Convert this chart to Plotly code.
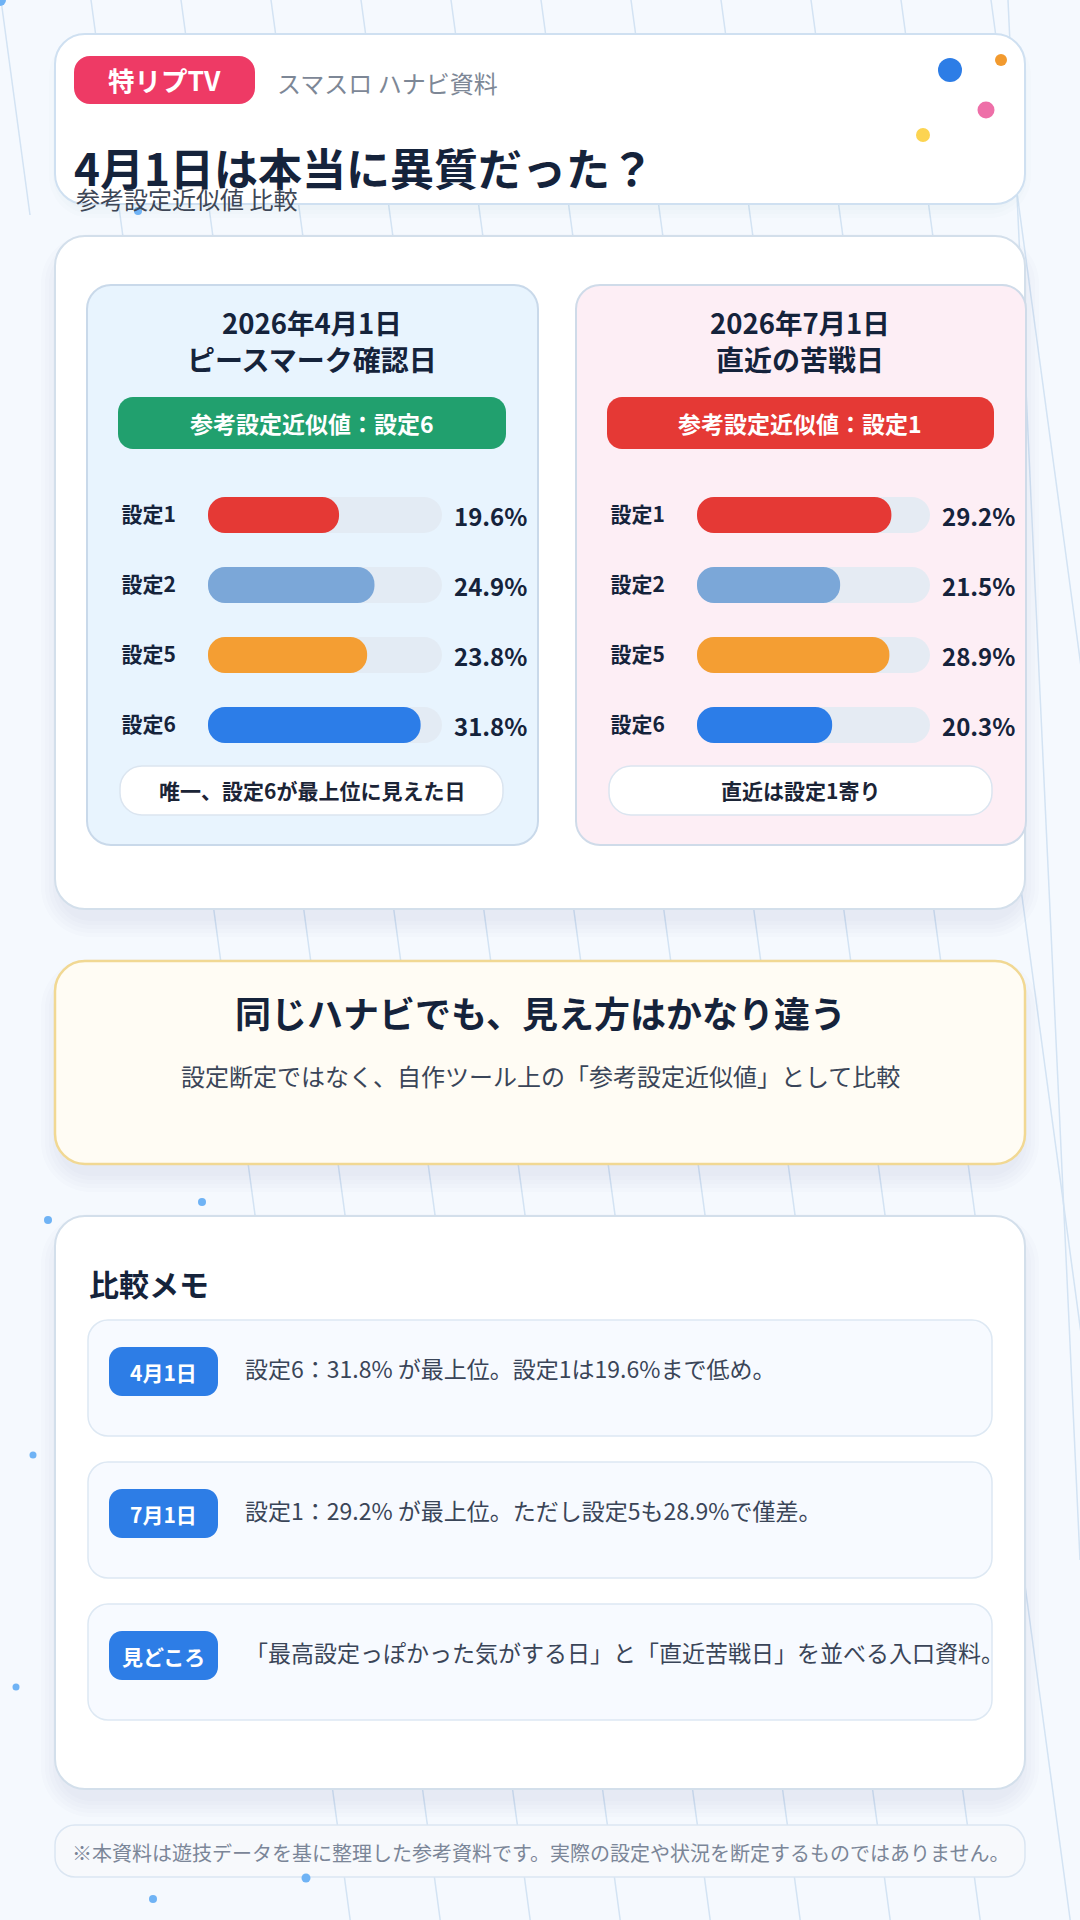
import plotly.graph_objects as go

W, H = 1080, 1920
FONT = "Noto Sans CJK JP"

# ---------------- data ----------------
settings = ["設定1", "設定2", "設定5", "設定6"]
apr1_values = [19.6, 24.9, 23.8, 31.8]
jul1_values = [29.2, 21.5, 28.9, 20.3]
bar_colors = ["#e53935", "#7ba7d8", "#f49e33", "#2c7de8"]
scale_max = 35

header_badge = "特リプTV"
header_sub = "スマスロ ハナビ資料"
title_text = "4月1日は本当に異質だった？"
subtitle_text = "参考設定近似値 比較"
panel_titles = [["2026年4月1日", "ピースマーク確認日"], ["2026年7月1日", "直近の苦戦日"]]
panel_pills = ["参考設定近似値：設定6", "参考設定近似値：設定1"]
panel_notes = ["唯一、設定6が最上位に見えた日", "直近は設定1寄り"]
mid_title = "同じハナビでも、見え方はかなり違う"
mid_sub = "設定断定ではなく、自作ツール上の「参考設定近似値」として比較"
memo_title = "比較メモ"
memo_badges = ["4月1日", "7月1日", "見どころ"]
memo_texts = [
    "設定6：31.8% が最上位。設定1は19.6%まで低め。",
    "設定1：29.2% が最上位。ただし設定5も28.9%で僅差。",
    "「最高設定っぽかった気がする日」と「直近苦戦日」を並べる入口資料。",
]
footer_text = "※本資料は遊技データを基に整理した参考資料です。実際の設定や状況を断定するものではありません。"


def px(x):
    return x / W


def py(y):
    return 1 - y / H


def P(x, y):
    return f"{px(x):.5f},{py(y):.5f}"


def rr_path(x0, y0, x1, y1, r):
    k = 0.4477 * r
    return (
        f"M{P(x0 + r, y0)} L{P(x1 - r, y0)} C{P(x1 - k, y0)} {P(x1, y0 + k)} {P(x1, y0 + r)} "
        f"L{P(x1, y1 - r)} C{P(x1, y1 - k)} {P(x1 - k, y1)} {P(x1 - r, y1)} "
        f"L{P(x0 + r, y1)} C{P(x0 + k, y1)} {P(x0, y1 - k)} {P(x0, y1 - r)} "
        f"L{P(x0, y0 + r)} C{P(x0, y0 + k)} {P(x0 + k, y0)} {P(x0 + r, y0)} Z"
    )


shapes = []


def rrect(x0, y0, x1, y1, r, fill, line=None, lw=0):
    shapes.append(dict(type="path", xref="paper", yref="paper", layer="below",
                       path=rr_path(x0, y0, x1, y1, r), fillcolor=fill,
                       line=dict(color=line if line else "rgba(0,0,0,0)", width=lw)))


def shadow(x0, y0, x1, y1, r, off=12, n=5, a=0.015):
    for i in range(1, n + 1):
        e = i * 4
        rrect(x0 - e + 6, y0 - e + off + 6, x1 + e - 6, y1 + e + off - 4, r + e, f"rgba(40,70,110,{a})")


def circle(cx, cy, r, color):
    shapes.append(dict(type="circle", xref="paper", yref="paper", layer="below",
                       x0=px(cx - r), x1=px(cx + r), y0=py(cy + r), y1=py(cy - r),
                       fillcolor=color, line=dict(width=0)))


def line(x0, y0, x1, y1, color, w=1.5):
    shapes.append(dict(type="line", xref="paper", yref="paper", layer="below",
                       x0=px(x0), y0=py(y0), x1=px(x1), y1=py(y1), line=dict(color=color, width=w)))


# background slanted lines
line(1, 0, 30, 215, "#d3e3f3", 1.5)
for k in range(1, 12):
    xt = 1 + 90 * k
    line(xt, 0, xt + 0.135 * H, H, "#d3e3f3", 1.5)
line(1008, 0, 1080, 1560, "#d3e3f3", 1.5)

# header card
shadow(55, 34, 1025, 204, 30, off=6, n=3, a=0.012)
rrect(55, 34, 1025, 204, 30, "#ffffff", "#cfe0f1", 2)
rrect(74, 56, 255, 104, 16, "#ee3a65")

# comparison card
shadow(55, 236, 1025, 909, 30)
rrect(55, 236, 1025, 909, 30, "#ffffff", "#d3dfeb", 2)
# panels
rrect(87, 285, 538, 845, 24, "#e8f4fe", "#c9d9ea", 2)
rrect(576, 285, 1026, 845, 24, "#fdeef5", "#cfdbe9", 2)
rrect(118, 397, 506, 449, 15, "#21a06e")
rrect(607, 397, 994, 449, 15, "#e53935")
rrect(120, 766, 503, 815, 22, "#ffffff", "#dbe5f0", 1.5)
rrect(609, 766, 992, 815, 22, "#ffffff", "#dbe5f0", 1.5)
# bar tracks (decoration behind the bars)
for yc in [515, 585, 655, 725]:
    rrect(208, yc - 18, 442, yc + 18, 18, "#e3ebf4")
    rrect(697, yc - 18, 930, yc + 18, 18, "#e5ebf3")

# middle yellow card
shadow(55, 961, 1025, 1164, 30)
rrect(55, 961, 1025, 1164, 30, "#fffcf4", "#f1d893", 2.5)

# memo card
shadow(55, 1216, 1025, 1789, 30)
rrect(55, 1216, 1025, 1789, 30, "#ffffff", "#d3dfeb", 2)
row_tops = [1320, 1462, 1604]
for t in row_tops:
    rrect(88, t, 992, t + 116, 20, "#f7faff", "#dde8f3", 1.5)
    rrect(109, t + 27, 218, t + 76, 13, "#2d7de6")

# footer
rrect(55, 1825, 1025, 1877, 20, "#f7f9fc", "#dbe6f2", 1.5)

# decorative dots
circle(950, 70, 12, "#2d7de6")
circle(1001, 60, 6, "#f29a2e")
circle(986, 110, 8.5, "#ee6fa8")
circle(923, 135, 7, "#fcd451")
for (cx, cy, r) in [(0, 0, 6), (138, 211, 4), (202, 1202, 4), (48, 1220, 4), (33, 1455, 3.5),
                    (16, 1687, 3.5), (306, 1878, 4.5), (153, 1899, 4)]:
    circle(cx, cy, r, "#6fb3f5")

annotations = []


def txt(x, y, s, size, color, weight=400, anchor="left", xref="paper", yref="paper", xshift=0):
    annotations.append(dict(
        x=px(x) if xref == "paper" else x, y=py(y) if yref == "paper" else y,
        xref=xref, yref=yref, text=s, showarrow=False, xanchor=anchor, yanchor="middle",
        xshift=xshift,
        font=dict(family=FONT, size=size, color=color, weight=weight)))


NAVY = "#15233b"
txt(164.5, 80, header_badge, 26.5, "#ffffff", 700, "center")
txt(275, 83, header_sub, 24, "#7d8796")
txt(72, 167, title_text, 44, NAVY, 700)
txt(74, 198, subtitle_text, 24, "#3d4656")

centers = [312, 800]
for i, c in enumerate(centers):
    txt(c, 322, panel_titles[i][0], 27.5, NAVY, 700, "center")
    txt(c, 359, panel_titles[i][1], 28, NAVY, 700, "center")
    txt(c, 423, panel_pills[i], 23, "#ffffff", 700, "center")
    txt(c, 790, panel_notes[i], 21, "#1b2436", 700, "center")

txt(540, 1012, mid_title, 36, NAVY, 700, "center")
txt(540, 1075, mid_sub, 24, "#3a4558", 400, "center")

txt(87, 1283, memo_title, 30, NAVY, 700)
for i, t in enumerate(row_tops):
    txt(163.5, t + 52, memo_badges[i], 21, "#ffffff", 700, "center")
    txt(243, t + 48, memo_texts[i], 23, "#3a4558")

txt(70, 1852, footer_text, 20, "#7b8698")

# ---------------- bars ----------------
fig = go.Figure()
panels = [("x", "y", apr1_values), ("x2", "y2", jul1_values)]
for xa, ya, vals in panels:
    fig.add_trace(go.Bar(y=settings, x=vals, base=[0] * len(vals), orientation="h",
                         marker=dict(color=bar_colors, line=dict(width=0)), width=0.514,
                         xaxis=xa, yaxis=ya, showlegend=False))
    for i, v in enumerate(vals):
        txt(scale_max, i, f"{v:.1f}%", 24, NAVY, 700, "left", xref=xa, yref=ya, xshift=10)

ydom = [py(760), py(480)]
yax = dict(domain=ydom, type="category", categoryorder="array", categoryarray=settings,
           range=[3.5, -0.5], showgrid=False, zeroline=False, showline=False, ticks="",
           ticklabelstandoff=31, fixedrange=True,
           tickfont=dict(family=FONT, size=21, color=NAVY, weight=700))
xax = dict(range=[0, scale_max], visible=False, fixedrange=True)

fig.update_layout(
    width=W, height=H, margin=dict(l=0, r=0, t=0, b=0),
    paper_bgcolor="#f5f9fe", plot_bgcolor="rgba(0,0,0,0)",
    barmode="overlay", barcornerradius=18,
    xaxis=dict(xax, domain=[px(208), px(442)], anchor="y"),
    yaxis=dict(yax, anchor="x"),
    xaxis2=dict(xax, domain=[px(697), px(930)], anchor="y2"),
    yaxis2=dict(yax, anchor="x2"),
    shapes=shapes, annotations=annotations,
    font=dict(family=FONT),
)

fig.write_html("out.html")
